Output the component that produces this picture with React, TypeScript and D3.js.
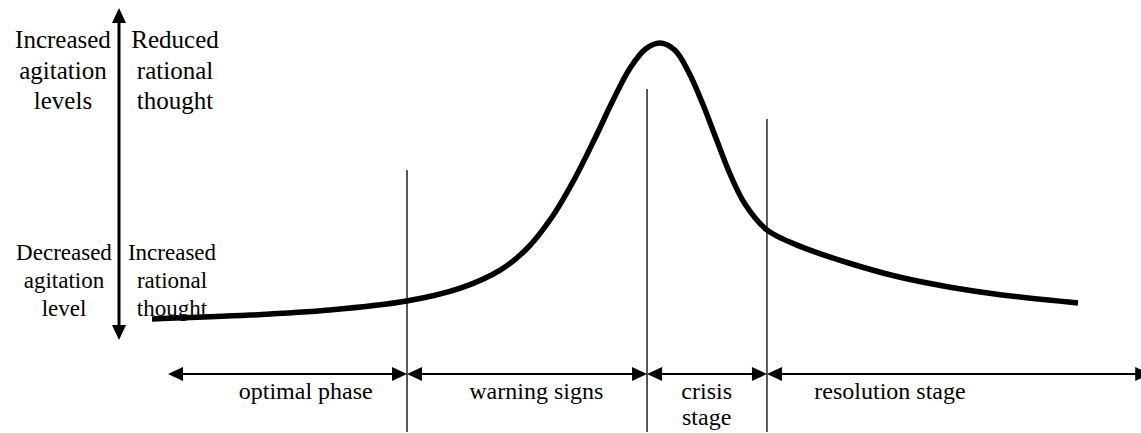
import React, { useEffect, useState } from "react";
import * as d3 from "d3";

// Curve: time (0-100) vs agitation level (0-100)
const curveTime = [0, 10.6, 19.2, 27.5, 33.3, 37.6, 40.5, 43.2, 45.6, 47.8, 49.8, 51.6, 53.3, 54.9, 56.5, 58.0, 59.5, 61, 62.4, 64.0, 66.4, 70, 75.4, 80.8, 86.2, 91.6, 100];
const curveLevel = [7, 8.3, 10, 13, 17.3, 23.3, 30.5, 41, 53.5, 67, 80, 90.5, 97, 99, 96.5, 89, 78.5, 66.5, 55.5, 45.5, 36.7, 31.2, 25.5, 20.9, 17.6, 15.1, 12.3];

// Stage boundaries (time units)
const stageBounds = [1.73, 27.54, 53.46, 66.41, 107.8];
const dividerTime = [27.54, 53.46, 66.41];
const dividerTopLevel = [56.7, 83.7, 73.7];
const stageLabels = [["optimal phase"], ["warning signs"], ["crisis", "stage"], ["resolution stage"]];
const stageLabelAt = [16.6, 41.5, 59.9, 79.7];

const topLeftText = ["Increased", "agitation", "levels"];
const topRightText = ["Reduced", "rational", "thought"];
const bottomLeftText = ["Decreased", "agitation", "level"];
const bottomRightText = ["Increased", "rational", "thought"];

const W = 1141;
const H = 433;
const FONT = `"Liberation Serif", "Times", serif`;

export default function App() {
  const [ready, setReady] = useState(0);

  useEffect(() => {
    document.body.style.margin = "0";
    const fonts: any = (document as any).fonts;
    if (fonts && fonts.load) {
      Promise.all([fonts.load(`24px "Liberation Serif"`), fonts.load(`25px "Liberation Serif"`)])
        .then(() => fonts.ready)
        .then(() => setReady((r) => r + 1))
        .catch(() => setReady((r) => r + 1));
    }
  }, []);

  const x = d3.scaleLinear().domain([0, 100]).range([152, 1078]);
  const y = d3.scaleLinear().domain([0, 100]).range([340, 40]);

  const pts: [number, number][] = curveTime.map((t, i) => [t, curveLevel[i]]);
  const line = d3
    .line<[number, number]>()
    .x((d) => x(d[0]))
    .y((d) => y(d[1]))
    .curve(d3.curveCatmullRom.alpha(0.5));

  const axisX = 119;
  const axisTop = 8;
  const axisBottom = 340;
  const timelineY = 374;
  const dividerBottom = 432;
  const headLen = 15;
  const headHalf = 7;

  const head = (key: string, tipX: number, tipY: number, dir: string) => {
    let p = "";
    if (dir === "r") p = `M${tipX},${tipY} L${tipX - headLen},${tipY - headHalf} L${tipX - headLen},${tipY + headHalf} Z`;
    if (dir === "l") p = `M${tipX},${tipY} L${tipX + headLen},${tipY - headHalf} L${tipX + headLen},${tipY + headHalf} Z`;
    if (dir === "u") p = `M${tipX},${tipY} L${tipX - headHalf},${tipY + headLen} L${tipX + headHalf},${tipY + headLen} Z`;
    if (dir === "d") p = `M${tipX},${tipY} L${tipX - headHalf},${tipY - headLen} L${tipX + headHalf},${tipY - headLen} Z`;
    return <path key={key} d={p} fill="#000" />;
  };

  const block = (id: string, lines: string[], cx: number, y0: number, lh: number, fs: number) =>
    lines.map((s, i) => (
      <text key={id + i + "-" + ready} x={cx} y={y0 + i * lh} textAnchor="middle" style={{ fontFamily: FONT, fontSize: fs }}>
        {s}
      </text>
    ));

  return (
    <svg width={W} height={H} style={{ display: "block", background: "#fff", fontFamily: FONT }}>
      {block("tl", topLeftText, 63, 48, 30.5, 25)}
      {block("tr", topRightText, 175, 48, 30.5, 25)}
      {block("bl", bottomLeftText, 64, 260, 28, 23)}
      {block("br", bottomRightText, 172, 260, 28, 23)}

      <line x1={axisX} x2={axisX} y1={axisTop + headLen - 1} y2={axisBottom - headLen + 1} stroke="#000" strokeWidth={3} />
      {head("hu", axisX, axisTop, "u")}
      {head("hd", axisX, axisBottom, "d")}

      {dividerTime.map((t, i) => (
        <line key={"dv" + i} x1={x(t)} x2={x(t)} y1={y(dividerTopLevel[i])} y2={dividerBottom} stroke="#000" strokeWidth={1.3} />
      ))}

      {stageBounds.slice(0, -1).map((t0, i) => {
        const a = x(t0);
        const b = x(stageBounds[i + 1]);
        return (
          <g key={"seg" + i}>
            <line x1={a + headLen - 1} x2={b - headLen + 1} y1={timelineY} y2={timelineY} stroke="#000" strokeWidth={2} />
            {head("l" + i, a, timelineY, "l")}
            {head("r" + i, b, timelineY, "r")}
          </g>
        );
      })}

      {stageLabels.map((lines, i) => block("sl" + i, lines, x(stageLabelAt[i]), 399, 26, 24))}

      <path d={line(pts) || ""} fill="none" stroke="#000" strokeWidth={5.5} />
    </svg>
  );
}
